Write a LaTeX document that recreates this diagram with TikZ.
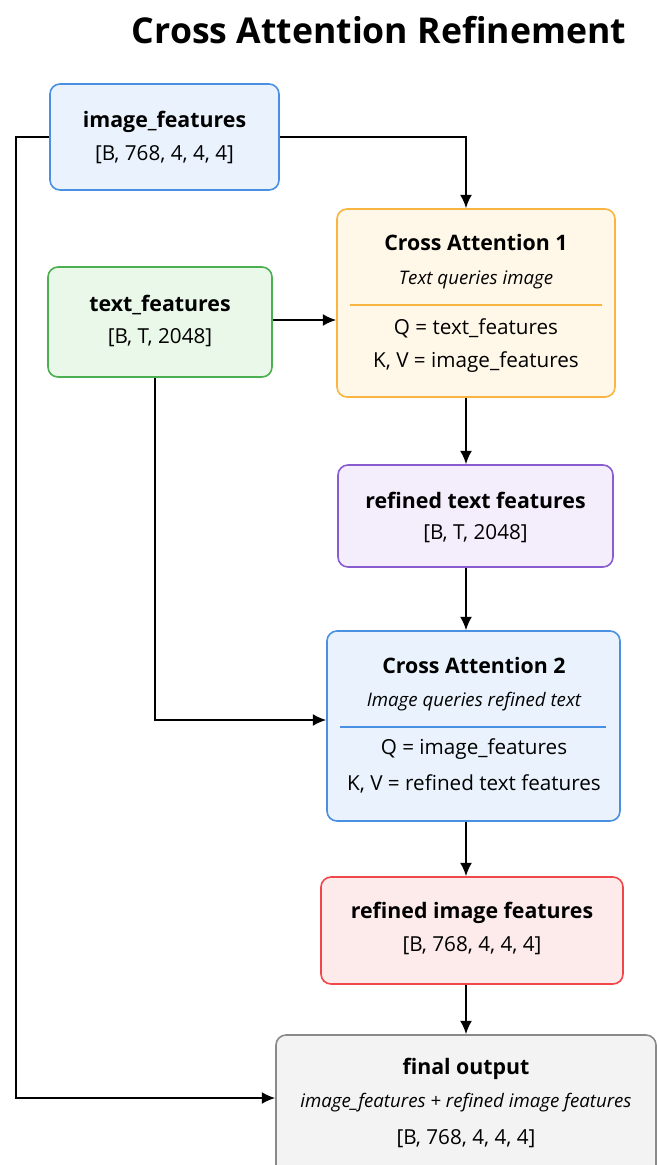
\documentclass[tikz,border=0pt]{standalone}
\usepackage{fontspec}
\setmainfont{Open Sans}
\usetikzlibrary{arrows.meta}
\definecolor{imgline}{HTML}{4A90E2}
\definecolor{imgfill}{HTML}{EAF3FD}
\definecolor{txtline}{HTML}{4CAF50}
\definecolor{txtfill}{HTML}{E9F8E9}
\definecolor{caoneline}{HTML}{F9B53F}
\definecolor{caonefill}{HTML}{FFF8E8}
\definecolor{rtline}{HTML}{8A5CD0}
\definecolor{rtfill}{HTML}{F4EDFB}
\definecolor{riline}{HTML}{F0474B}
\definecolor{rifill}{HTML}{FDEBEC}
\definecolor{outline}{HTML}{8A8A8A}
\definecolor{outfill}{HTML}{F3F3F3}
\tikzset{
  box/.style={draw, rounded corners=7.5pt, line width=1.2pt, inner sep=0pt},
  head/.style={font=\fontsize{16}{19}\selectfont\bfseries},
  body/.style={font=\fontsize{15.5}{18}\selectfont},
  note/.style={font=\fontsize{14}{17}\selectfont\itshape},
  arr/.style={-{Latex[length=10pt,width=9pt]}, line width=1.5pt}
}
\begin{document}
\begin{tikzpicture}[x=0.75pt,y=-0.75pt]
	\useasboundingbox (0,0) rectangle (657,1165);
	\node[font=\fontsize{26.7}{32}\selectfont\bfseries] (title) at (379,30) {Cross Attention Refinement};
	% inputs
	\node[box, draw=imgline, fill=imgfill, minimum width=171.75pt, minimum height=79.5pt] (imgf) at (164.5,137) {};
	\node[head] at (164.5,122) {image\_features};
	\node[body] at (164.5,155) {[B, 768, 4, 4, 4]};
	\node[box, draw=txtline, fill=txtfill, minimum width=168pt, minimum height=82.5pt] (txtf) at (160,322) {};
	\node[head] at (160,305) {text\_features};
	\node[body] at (160,338) {[B, T, 2048]};
	% cross attention 1
	\node[box, draw=caoneline, fill=caonefill, minimum width=208.5pt, minimum height=141pt] (caone) at (476,303) {};
	\node[head] at (476,242) {Cross Attention 1};
	\node[note] at (476,280) {Text queries image};
	\draw[caoneline, line width=0.8pt] (350,305) -- (602,305);
	\node[body] at (476,328) {Q = text\_features};
	\node[body] at (476,362) {K, V = image\_features};
	% refined text
	\node[box, draw=rtline, fill=rtfill, minimum width=206.25pt, minimum height=76.5pt] (rtf) at (475.5,516) {};
	\node[head] at (475.5,500) {refined text features};
	\node[body] at (475.5,534) {[B, T, 2048]};
	% cross attention 2
	\node[box, draw=imgline, fill=imgfill, minimum width=219.75pt, minimum height=142.5pt] (catwo) at (473.5,726) {};
	\node[head] at (474,665) {Cross Attention 2};
	\node[note] at (474,702) {Image queries refined text};
	\draw[imgline, line width=0.8pt] (340,727) -- (606,727);
	\node[body] at (474,749) {Q = image\_features};
	\node[body] at (474,784) {K, V = refined text features};
	% refined image
	\node[box, draw=riline, fill=rifill, minimum width=226.5pt, minimum height=80.25pt] (rif) at (472,930.5) {};
	\node[head] at (472,913) {refined image features};
	\node[body] at (472,946) {[B, 768, 4, 4, 4]};
	% output
	\node[box, draw=outline, fill=outfill, minimum width=285pt, minimum height=105pt] (fout) at (466,1105) {};
	\node[head] at (466,1069) {final output};
	\node[note] at (466,1103) {image\_features + refined image features};
	\node[body] at (466,1139) {[B, 768, 4, 4, 4]};
	% connectors
	\coordinate (spine) at (466,0);
	\coordinate (leftrail) at (16,0);
	\coordinate (txtdrop) at (155,0);
	\draw[arr] (imgf.east) -| (caone.north -| spine);
	\draw[arr] (txtf.east |- 0,320) -- (caone.west |- 0,320);
	\draw[arr] (caone.south -| spine) -- (rtf.north -| spine);
	\draw[arr] (rtf.south -| spine) -- (catwo.north -| spine);
	\draw[arr] (txtf.south -| txtdrop) |- (catwo.west |- 0,720);
	\draw[arr] (catwo.south -| spine) -- (rif.north -| spine);
	\draw[arr] (rif.south -| spine) -- (fout.north -| spine);
	\draw[arr] (imgf.west) -| (leftrail |- 0,1098) -- (fout.west |- 0,1098);
\end{tikzpicture}
\end{document}
